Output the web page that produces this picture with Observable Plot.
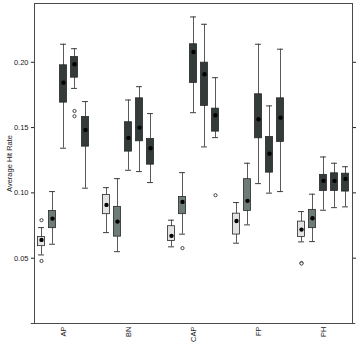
<!DOCTYPE html>
<html><head><meta charset="utf-8">
<script src="https://cdn.jsdelivr.net/npm/d3@7"></script>
<script src="https://cdn.jsdelivr.net/npm/@observablehq/plot@0.6"></script>
<style>body{margin:0;background:#fff;} #chart svg{display:block;}</style>
</head><body><div id="chart"></div>
<script>
const categories = ["AP", "BN", "CAP", "FP", "PH"];
const yTicks = [0.05, 0.10, 0.15, 0.20];
// each entry: [whiskerLow, q1, median, q3, whiskerHigh], one per category
const series1 = [[0.0525,0.0592,0.0640,0.0663,0.0734],[0.0696,0.0837,0.0908,0.0984,0.1040],[0.0587,0.0632,0.0671,0.0745,0.0791],[0.0615,0.0681,0.0785,0.0841,0.0926],[0.0625,0.0663,0.0719,0.0780,0.0857]];
const series2 = [[0.0607,0.0730,0.0803,0.0862,0.1010],[0.0550,0.0665,0.0780,0.0893,0.1109],[0.0684,0.0837,0.0931,0.0969,0.1155],[0.0755,0.0862,0.0939,0.1105,0.1227],[0.0627,0.0730,0.0806,0.0870,0.0990]];
const series3 = [[0.1342,0.1691,0.1844,0.1977,0.2138],[0.1173,0.1316,0.1421,0.1541,0.1711],[0.1614,0.1842,0.2079,0.2138,0.2347],[0.1071,0.1418,0.1564,0.1755,0.2138],[0.0867,0.1015,0.1092,0.1138,0.1275]];
const series4 = [[0.1800,0.1882,0.1985,0.2040,0.2104],[0.1163,0.1395,0.1500,0.1724,0.1813],[0.1352,0.1666,0.1908,0.1997,0.2291],[0.0998,0.1155,0.1300,0.1428,0.1666],[0.0887,0.1015,0.1092,0.1150,0.1227]];
const series5 = [[0.1036,0.1354,0.1482,0.1581,0.1699],[0.1079,0.1216,0.1342,0.1413,0.1607],[0.1423,0.1469,0.1594,0.1645,0.1882],[0.1010,0.1390,0.1576,0.1724,0.2100],[0.0893,0.1010,0.1107,0.1147,0.1200]];
// outliers
const outlierCategory = ["AP", "AP", "AP", "AP", "CAP", "CAP", "PH", "PH"];
const outlierSeries   = [0, 0, 3, 3, 1, 4, 0, 0];
const outlierValue    = [0.0791, 0.0479, 0.1627, 0.1587, 0.0577, 0.0982, 0.0463, 0.0459];

const seriesList = [series1, series2, series3, series4, series5];
const fills = ["#e2e4e2", "#6d7b79", "#333b3b", "#333b3b", "#333b3b"];
const spacing = 11 / 65;   // horizontal offset between series within a group
const halfWidth = 0.055;
const xDomain = [-29/65, 4 + 29/65];

const boxes = [];
seriesList.forEach((ser, s) => ser.forEach((d, c) => {
  boxes.push({pos: c + (s - 2) * spacing, s, lo: d[0], q1: d[1], med: d[2], q3: d[3], hi: d[4]});
}));
const outliers = outlierValue.map((v, i) => ({
  pos: categories.indexOf(outlierCategory[i]) + (outlierSeries[i] - 2) * spacing, v
}));

const chart = Plot.plot({
  width: 359, height: 342,
  marginLeft: 34, marginRight: 7, marginTop: 3, marginBottom: 19,
  style: {fontFamily: "'Liberation Sans', Arial, sans-serif", fontSize: "7px", color: "#222", background: "#fff"},
  x: {type: "linear", domain: xDomain},
  y: {domain: [0, 0.245]},
  marks: [
    Plot.ruleX(boxes, {x: "pos", y1: "lo", y2: "hi", stroke: "#5a5a5a", strokeWidth: 1}),
    Plot.ruleY(boxes, {y: "lo", x1: d => d.pos - 0.045, x2: d => d.pos + 0.045, stroke: "#3a3a3a", strokeWidth: 1}),
    Plot.ruleY(boxes, {y: "hi", x1: d => d.pos - 0.045, x2: d => d.pos + 0.045, stroke: "#3a3a3a", strokeWidth: 1}),
    Plot.rect(boxes, {x1: d => d.pos - halfWidth, x2: d => d.pos + halfWidth, y1: "q1", y2: "q3", fill: d => fills[d.s], stroke: "#2a2a2a", strokeWidth: 0.8}),
    Plot.dot(boxes, {x: "pos", y: "med", r: 2.2, fill: "#000", stroke: "none"}),
    Plot.dot(outliers, {x: "pos", y: "v", r: 1.6, fill: "#fff", stroke: "#333", strokeWidth: 0.9}),
    Plot.frame({stroke: "#4a4a4a"}),
    Plot.ruleY([0], {x1: xDomain[0] - 0.05, x2: xDomain[1] + 0.05, stroke: "#4a4a4a"}),
    Plot.axisY({anchor: "left", ticks: yTicks, tickFormat: ".2f", tickSize: 3, tickPadding: 3,
      label: "Average Hit Rate", labelAnchor: "center", labelArrow: "none", labelOffset: 28, fontSize: 7.5}),
    Plot.axisY({anchor: "right", ticks: yTicks, tickFormat: () => "", tickSize: 3, label: null}),
    Plot.axisX({ticks: [0, 1, 2, 3, 4], tickFormat: i => categories[i], tickRotate: -90, tickSize: 0, tickPadding: 3, label: null, fontSize: 7.5})
  ]
});
document.getElementById("chart").appendChild(chart);
</script>
</body></html>
